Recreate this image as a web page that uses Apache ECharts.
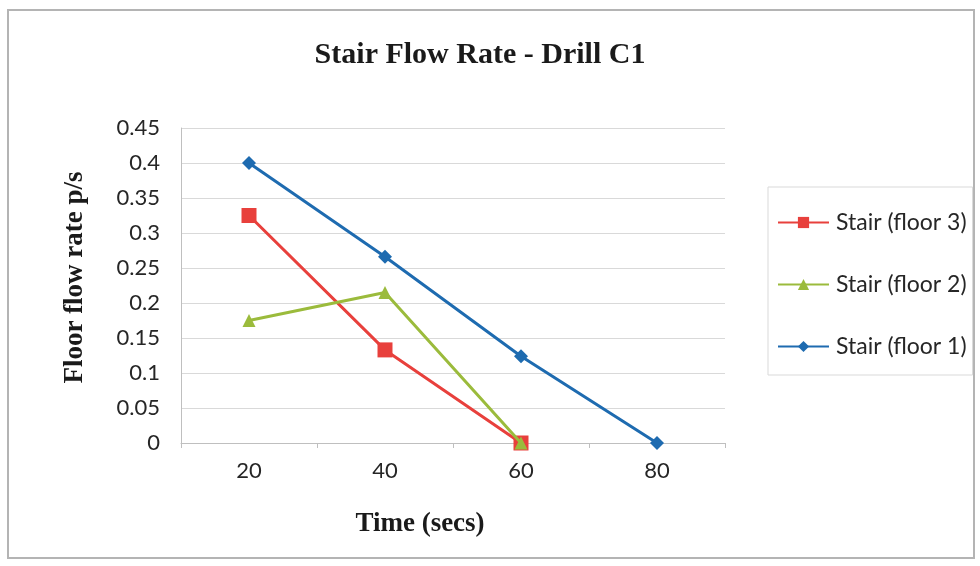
<!DOCTYPE html>
<html>
<head>
<meta charset="utf-8">
<style>
  html, body { margin: 0; padding: 0; background: #ffffff; }
  #chart { width: 980px; height: 566px; }
</style>
<script src="https://cdn.jsdelivr.net/npm/echarts@6/dist/echarts.min.js"></script>
</head>
<body>
<div id="chart"></div>
<script>
// Time points (seconds) on the category axis
const times = ['20', '40', '60', '80'];

// Flow rate per stair, persons per second
const floor3 = [0.325, 0.133, 0];
const floor2 = [0.175, 0.215, 0];
const floor1 = [0.4, 0.266, 0.124, 0];

// Y axis range and step
const yMin = 0;
const yMax = 0.45;
const yStep = 0.05;

const chart = echarts.init(document.getElementById('chart'), null, { renderer: 'canvas' });

const tickFont = 'Lato, "Open Sans", sans-serif';
const serifFont = '"Liberation Serif", "DejaVu Serif", serif';

chart.setOption({
  animation: false,
  backgroundColor: '#ffffff',
  title: [
    {
      text: 'Stair Flow Rate - Drill C1',
      left: 475,
      top: 35,
      textAlign: 'center',
      textStyle: { fontFamily: serifFont, fontWeight: 'bold', fontSize: 30, color: '#1a1a1a' }
    },
    {
      text: 'Time (secs)',
      left: 415,
      top: 506,
      textAlign: 'center',
      textStyle: { fontFamily: serifFont, fontWeight: 'bold', fontSize: 27, color: '#1a1a1a' }
    }
  ],
  graphic: [
    {
      type: 'rect',
      shape: { x: 8, y: 10, width: 966, height: 548 },
      style: { fill: 'none', stroke: '#b4b4b4', lineWidth: 2 },
      silent: true,
      z: -1
    }
  ],
  grid: { left: 181, right: 255, top: 128, bottom: 123, containLabel: false },
  legend: {
    orient: 'vertical',
    left: 768,
    top: 187,
    padding: [24, 6, 17, 9],
    itemGap: 39,
    itemWidth: 51,
    itemHeight: 14,
    borderColor: '#d9d9d9',
    borderWidth: 1,
    backgroundColor: '#ffffff',
    textStyle: { fontFamily: tickFont, fontSize: 23, color: '#262626', padding: [0, 0, 0, 2] },
    data: ['Stair (floor 3)', 'Stair (floor 2)', 'Stair (floor 1)']
  },
  xAxis: {
    type: 'category',
    data: times,
    boundaryGap: true,
    axisLine: { show: true, lineStyle: { color: '#bfbfbf', width: 1 } },
    axisTick: { show: true, length: 5, lineStyle: { color: '#bfbfbf' } },
    axisLabel: { margin: 17, fontFamily: tickFont, fontSize: 22, color: '#262626' },
    splitLine: { show: false }
  },
  yAxis: {
    type: 'value',
    min: yMin,
    max: yMax,
    interval: yStep,
    name: 'Floor flow rate p/s',
    nameLocation: 'middle',
    nameGap: 92,
    nameTextStyle: {
      fontFamily: serifFont,
      fontWeight: 'bold',
      fontSize: 27,
      color: '#1a1a1a',
      padding: [0, 0, 0, 16]
    },
    axisLine: { show: true, lineStyle: { color: '#bfbfbf', width: 1 } },
    axisTick: { show: false },
    axisLabel: {
      margin: 21,
      fontFamily: tickFont,
      fontSize: 22,
      color: '#262626',
      formatter: v => String(parseFloat(v.toFixed(2)))
    },
    splitLine: { show: true, lineStyle: { color: '#d9d9d9', width: 1 } }
  },
  series: [
    {
      name: 'Stair (floor 3)',
      type: 'line',
      data: floor3,
      symbol: 'rect',
      symbolSize: 15,
      lineStyle: { color: '#e8403c', width: 3 },
      itemStyle: { color: '#e8403c' },
      z: 4
    },
    {
      name: 'Stair (floor 2)',
      type: 'line',
      data: floor2,
      symbol: 'triangle',
      symbolSize: 13,
      lineStyle: { color: '#9bbb3c', width: 3 },
      itemStyle: { color: '#9bbb3c' },
      z: 5
    },
    {
      name: 'Stair (floor 1)',
      type: 'line',
      data: floor1,
      symbol: 'diamond',
      symbolSize: 14,
      lineStyle: { color: '#1e6bb0', width: 3 },
      itemStyle: { color: '#1e6bb0' },
      z: 3
    }
  ]
});
</script>
</body>
</html>
